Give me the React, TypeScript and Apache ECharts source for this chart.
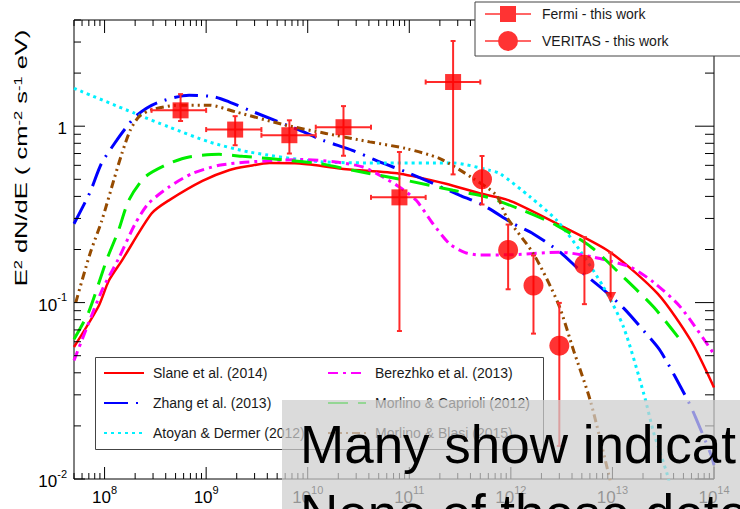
import React, { useEffect, useRef } from 'react';
import * as echarts from 'echarts';

// Axis ranges: energy in eV, flux in E^2 dN/dE (cm^-2 s^-1 eV)
const E_MIN = 5e7;
const E_MAX = 1e14;
const F_MIN = 1e-2;
const F_MAX = 4;

// Labelled decades (log10)
const xLabelDecades = [8, 9, 10, 11, 12, 13, 14];
const yLabelDecades = [-2, -1, 0];

// Model curves: [energy (eV), E^2 dN/dE]
const slane = [
  [5e7, 0.056], [8.7e7, 0.095], [1.1e8, 0.133], [1.48e8, 0.173], [2.9e8, 0.32],
  [4.3e8, 0.38], [9.2e8, 0.49], [1.7e9, 0.565], [2.65e9, 0.595], [4.2e9, 0.618],
  [8.3e9, 0.615], [2.4e10, 0.57], [8e10, 0.538], [2.3e11, 0.472], [5e11, 0.415],
  [7.8e11, 0.393], [1.06e12, 0.371], [3.06e12, 0.274], [9.5e12, 0.193],
  [2.8e13, 0.112], [5.9e13, 0.061], [1e14, 0.033],
];
const zhang = [
  [5e7, 0.28], [7.2e7, 0.423], [9.3e7, 0.614], [1.32e8, 0.833], [1.6e8, 0.97],
  [2.08e8, 1.155], [3.3e8, 1.357], [6.8e8, 1.5], [1.19e9, 1.468], [1.68e9, 1.375],
  [2.65e9, 1.233], [8.3e9, 0.949], [1.4e10, 0.833], [2.75e10, 0.73], [4.7e10, 0.641],
  [9.3e10, 0.55], [1.58e11, 0.483], [3.15e11, 0.406], [5.35e11, 0.356], [1.06e12, 0.28],
  [1.67e12, 0.245], [3.06e12, 0.193], [4.8e12, 0.152], [8.2e12, 0.118], [1.29e13, 0.093],
  [2.04e13, 0.069], [2.98e13, 0.053], [5.5e13, 0.028], [6.6e13, 0.0223], [9.3e13, 0.0138],
  [1e14, 0.012],
];
const atoyan = [
  [5e7, 1.64], [2.0e8, 1.18], [4.3e8, 0.99], [1.07e9, 0.815], [2.65e9, 0.714],
  [1.3e10, 0.63], [5.9e10, 0.619], [2.7e11, 0.619], [6.2e11, 0.562], [7.8e11, 0.539],
  [1.55e12, 0.397], [2.84e12, 0.292], [4.8e12, 0.197], [8.2e12, 0.122], [1.29e13, 0.0724],
  [2.04e13, 0.0303], [2.57e13, 0.018], [3.47e13, 0.0106], [3.7e13, 0.009],
];
const berezhko = [
  [5e7, 0.047], [9.4e7, 0.117], [1.37e8, 0.177], [2.0e8, 0.28], [2.7e8, 0.364],
  [4.3e8, 0.452], [7.3e8, 0.539], [1.34e9, 0.6], [2.65e9, 0.627], [8.9e9, 0.647],
  [1.9e10, 0.627], [3.5e10, 0.587], [5.5e10, 0.515], [8e10, 0.452], [1.17e11, 0.38],
  [1.71e11, 0.28], [2.5e11, 0.215], [3.55e11, 0.192], [5e11, 0.186], [1.06e12, 0.187],
  [3.06e12, 0.193], [6.5e12, 0.181], [1.5e13, 0.159], [2.56e13, 0.13], [4.7e13, 0.094],
  [1e14, 0.051],
];
const morlinoCaprioli = [
  [5e7, 0.062], [6.95e7, 0.088], [1.05e8, 0.175], [1.37e8, 0.256], [1.73e8, 0.38],
  [2.5e8, 0.515], [4.3e8, 0.614], [6.8e8, 0.669], [1.34e9, 0.693], [2.28e9, 0.675],
  [4.2e9, 0.655], [1.3e10, 0.614], [2.78e10, 0.562], [9.3e10, 0.493], [2.7e11, 0.433],
  [5.75e11, 0.397], [1.32e12, 0.333], [2.82e12, 0.274], [6.2e12, 0.206], [1.29e13, 0.139],
  [2.56e13, 0.094], [4.7e13, 0.061],
];
const morlinoBlasi = [
  [5.2e7, 0.1], [7.2e7, 0.19], [9.4e7, 0.292], [1.23e8, 0.493], [1.48e8, 0.7],
  [1.79e8, 0.949], [2.17e8, 1.13], [2.83e8, 1.233], [5.4e8, 1.316], [1.07e9, 1.316],
  [1.95e9, 1.206], [6.1e9, 1.013], [1.51e10, 0.91], [4.07e10, 0.815], [9.3e10, 0.747],
  [2.0e11, 0.655], [4.27e11, 0.505], [7.2e11, 0.406], [9.1e11, 0.305], [1.67e12, 0.189],
  [2.92e12, 0.099], [4.17e12, 0.053], [6.07e12, 0.0277], [9.2e12, 0.0106], [1e13, 0.0085],
];

// Fermi-LAT spectral points with energy bins and flux errors
const fermiE = [5.6e8, 1.93e9, 6.6e9, 2.25e10, 8.0e10, 2.7e11];
const fermiElo = [2.9e8, 1e9, 3.5e9, 1.2e10, 4.2e10, 1.45e11];
const fermiEhi = [1e9, 3.5e9, 1.2e10, 4.2e10, 1.45e11, 5e11];
const fermiF = [1.23, 0.957, 0.889, 0.987, 0.395, 1.78];
const fermiFlo = [1.07, 0.78, 0.7, 0.68, 0.069, 0.533];
const fermiFhi = [1.52, 1.14, 1.08, 1.3, 0.714, 3.04];

// VERITAS spectral points
const veritasE = [5.2e11, 9.4e11, 1.67e12, 3.0e12, 5.3e12];
const veritasF = [0.5, 0.199, 0.125, 0.057, 0.164];
const veritasFlo = [0.36, 0.119, 0.0667, 0.0154, 0.098];
const veritasFhi = [0.678, 0.277, 0.185, 0.0996, 0.235];

// VERITAS upper limit: energy, limit value, arrow tip
const ulE = [9.6e12];
const ulF = [0.192];
const ulTip = [0.107];

const modelNames = [
  'Slane et al. (2014)',
  'Zhang et al. (2013)',
  'Atoyan & Dermer (2012)',
  'Berezhko et al. (2013)',
  'Morlino & Caprioli (2012)',
  'Morlino & Blasi (2015)',
];
const fermiName = 'Fermi - this work';
const veritasName = 'VERITAS - this work';

const overlayLines = ['Many show indicat', 'None of these dete'];

const FONT = '"Liberation Sans", Arial, Helvetica, sans-serif';
const RED = '#ff0000';

const modelStyles = [
  { data: slane, color: '#ff0000', width: 2.5, type: 'solid' as any },
  { data: zhang, color: '#0000ff', width: 3, type: [24, 8, 2, 8] },
  { data: atoyan, color: '#00f0ff', width: 3, type: [3, 4] },
  { data: berezhko, color: '#ff00ff', width: 3, type: [10, 5, 3, 5] },
  { data: morlinoCaprioli, color: '#00ee00', width: 3, type: [20, 10] },
  { data: morlinoBlasi, color: '#964b00', width: 3, type: [8, 4, 2, 4, 2, 4] },
];

const lg = Math.log10;
const xMinL = lg(E_MIN);
const xMaxL = lg(E_MAX);
const yMinL = lg(F_MIN);
const yMaxL = lg(F_MAX);

function logTicks(lo: number, hi: number) {
  const out: number[][] = [];
  for (let d = Math.floor(lo); d <= Math.ceil(hi); d++) {
    for (let k = 1; k <= 9; k++) {
      const v = d + lg(k);
      if (v >= lo - 1e-9 && v <= hi + 1e-9) out.push([v, k === 1 ? 1 : 0]);
    }
  }
  return out;
}

const supRich = {
  b: { fontSize: 17, fontFamily: FONT, color: '#000', lineHeight: 22, verticalAlign: 'bottom' },
  s: { fontSize: 11, fontFamily: FONT, color: '#000', lineHeight: 12, verticalAlign: 'top' },
};

function seg(x1: number, y1: number, x2: number, y2: number, style: any) {
  return { type: 'line', shape: { x1, y1, x2, y2 }, style };
}

function errorBarItem(withX: boolean) {
  return (params: any, api: any) => {
    const cx = api.value(0);
    const cy = api.value(1);
    const c = api.coord([cx, cy]);
    const yl = api.coord([cx, api.value(4)])[1];
    const yh = api.coord([cx, api.value(5)])[1];
    const st = { stroke: '#ff2a2a', lineWidth: 2 };
    const cap = 2.5;
    const children: any[] = [
      seg(c[0], yh, c[0], yl, st),
      seg(c[0] - cap, yh, c[0] + cap, yh, st),
      seg(c[0] - cap, yl, c[0] + cap, yl, st),
    ];
    if (withX) {
      const xl = api.coord([api.value(2), cy])[0];
      const xh = api.coord([api.value(3), cy])[0];
      children.push(seg(xl, c[1], xh, c[1], st));
      children.push(seg(xl, c[1] - cap, xl, c[1] + cap, st));
      children.push(seg(xh, c[1] - cap, xh, c[1] + cap, st));
    }
    return { type: 'group', children };
  };
}

const fermiIcon = 'path://M0,9.25H46V10.75H0Z M15,2H31V18H15Z';
const veritasIcon = 'path://M0,9.25H46V10.75H0Z M13,10A10,10,0,1,1,33,10A10,10,0,1,1,13,10Z';

function buildOption() {
  const tickStyle = { stroke: '#000', lineWidth: 1 };

  const xTickSeries = {
    type: 'custom',
    coordinateSystem: 'cartesian2d',
    silent: true,
    z: 3,
    data: logTicks(xMinL, xMaxL).map(([v, m]) => [v, yMinL, m]),
    encode: { x: 0, y: 1 },
    renderItem: (params: any, api: any) => {
      const cs = params.coordSys;
      const x = api.coord([api.value(0), yMinL])[0];
      const major = api.value(2) === 1;
      const bot = cs.y + cs.height;
      const top = cs.y;
      return {
        type: 'group',
        children: [
          seg(x, bot, x, bot - (major ? 12 : 6), tickStyle),
          seg(x, top, x, top + (major ? 13 : 6), tickStyle),
        ],
      };
    },
  };

  const yTickSeries = {
    type: 'custom',
    coordinateSystem: 'cartesian2d',
    silent: true,
    z: 3,
    data: logTicks(yMinL, yMaxL).map(([v, m]) => [xMinL, v, m]),
    encode: { x: 0, y: 1 },
    renderItem: (params: any, api: any) => {
      const cs = params.coordSys;
      const y = api.coord([xMinL, api.value(1)])[1];
      const major = api.value(2) === 1;
      const left = cs.x;
      const right = cs.x + cs.width;
      return {
        type: 'group',
        children: [
          seg(left, y, left + (major ? 11 : 7), y, tickStyle),
          seg(right, y, right - (major ? 19 : 9), y, tickStyle),
        ],
      };
    },
  };

  const modelSeries = modelStyles.map((m, i) => ({
    name: modelNames[i],
    type: 'line',
    data: m.data.map(([e, f]) => [lg(e), lg(f)]),
    symbol: 'none',
    showSymbol: false,
    smooth: 0.25,
    clip: true,
    silent: true,
    z: 2,
    emphasis: { disabled: true },
    lineStyle: { color: m.color, width: m.width, type: m.type },
    itemStyle: { color: m.color },
  }));

  const fermiErr = {
    type: 'custom',
    coordinateSystem: 'cartesian2d',
    silent: true,
    z: 4,
    encode: { x: 0, y: 1 },
    data: fermiE.map((e, i) => [lg(e), lg(fermiF[i]), lg(fermiElo[i]), lg(fermiEhi[i]), lg(fermiFlo[i]), lg(fermiFhi[i])]),
    renderItem: errorBarItem(true),
  };
  const veritasErr = {
    type: 'custom',
    coordinateSystem: 'cartesian2d',
    silent: true,
    z: 4,
    encode: { x: 0, y: 1 },
    data: veritasE.map((e, i) => [lg(e), lg(veritasF[i]), lg(e), lg(e), lg(veritasFlo[i]), lg(veritasFhi[i])]),
    renderItem: errorBarItem(false),
  };
  const ulErr = {
    type: 'custom',
    coordinateSystem: 'cartesian2d',
    silent: true,
    z: 4,
    encode: { x: 0, y: 1 },
    data: ulE.map((e, i) => [lg(e), lg(ulF[i]), lg(ulTip[i])]),
    renderItem: (params: any, api: any) => {
      const top = api.coord([api.value(0), api.value(1)]);
      const tip = api.coord([api.value(0), api.value(2)]);
      const st = { stroke: '#ff2a2a', lineWidth: 2 };
      return {
        type: 'group',
        children: [
          seg(top[0], top[1], tip[0], tip[1], st),
          seg(top[0] - 2.5, top[1], top[0] + 2.5, top[1], st),
        ],
      };
    },
  };

  const fermiPts = {
    name: fermiName,
    type: 'scatter',
    symbol: 'rect',
    symbolSize: 16,
    silent: true,
    z: 5,
    itemStyle: { color: RED },
    data: fermiE.map((e, i) => [lg(e), lg(fermiF[i])]),
  };
  const veritasPts = {
    name: veritasName,
    type: 'scatter',
    symbol: 'circle',
    symbolSize: 20,
    silent: true,
    z: 5,
    itemStyle: { color: RED },
    data: veritasE.map((e, i) => [lg(e), lg(veritasF[i])]),
  };
  const ulPts = {
    type: 'scatter',
    symbol: 'triangle',
    symbolRotate: 180,
    symbolSize: 11,
    silent: true,
    z: 5,
    itemStyle: { color: RED },
    data: ulE.map((e, i) => [lg(e), lg(ulTip[i])]),
  };

  const legendText = { fontSize: 14, fontFamily: FONT, color: '#1a1a1a', padding: [0, 0, 0, 4] };

  return {
    animation: false,
    backgroundColor: '#ffffff',
    grid: {
      left: 74, top: 20, right: 26, bottom: 30,
      show: true, borderColor: '#000', borderWidth: 1, backgroundColor: 'transparent',
    },
    xAxis: {
      type: 'value',
      min: xMinL,
      max: xMaxL,
      axisLine: { show: false },
      axisTick: { show: false },
      splitLine: { show: false },
      axisLabel: {
        customValues: xLabelDecades,
        margin: 5,
        rich: supRich,
        formatter: (v: number) => {
          const r = Math.round(v);
          return Math.abs(v - r) < 1e-6 ? `{b|10}{s|${r}}` : '';
        },
      },
    },
    yAxis: {
      type: 'value',
      min: yMinL,
      max: yMaxL,
      axisLine: { show: false },
      axisTick: { show: false },
      splitLine: { show: false },
      axisLabel: {
        customValues: yLabelDecades,
        margin: 7,
        rich: supRich,
        formatter: (v: number) => {
          const r = Math.round(v);
          if (Math.abs(v - r) > 1e-6) return '';
          return r === 0 ? '{b|1}' : `{b|10}{s|${r}}`;
        },
      },
    },
    legend: [
      {
        data: [
          { name: fermiName, icon: fermiIcon },
          { name: veritasName, icon: veritasIcon },
        ],
        orient: 'vertical',
        left: 475,
        top: 2,
        itemWidth: 46,
        itemHeight: 20,
        itemGap: 9,
        padding: [4, 90, 5, 10],
        backgroundColor: '#ffffff',
        borderColor: '#444',
        borderWidth: 1,
        selectedMode: false,
        z: 20,
        textStyle: { ...legendText, padding: [0, 0, 0, 6] },
      },
      {
        data: modelNames.slice(0, 3),
        orient: 'vertical',
        left: 103,
        top: 366,
        itemWidth: 40,
        itemHeight: 14,
        itemGap: 16,
        padding: 0,
        selectedMode: false,
        z: 20,
        itemStyle: { opacity: 0 },
        textStyle: legendText,
      },
      {
        data: modelNames.slice(3),
        orient: 'vertical',
        left: 327,
        top: 366,
        itemWidth: 38,
        itemHeight: 14,
        itemGap: 16,
        padding: 0,
        selectedMode: false,
        z: 20,
        itemStyle: { opacity: 0 },
        textStyle: legendText,
      },
    ],
    graphic: [
      {
        type: 'rect',
        z: 15,
        shape: { x: 95.5, y: 357.5, width: 448, height: 92 },
        style: { fill: '#ffffff', stroke: '#444', lineWidth: 1 },
      },
      {
        type: 'text',
        z: 15,
        x: 21,
        y: 158,
        rotation: Math.PI / 2,
        scaleX: 1.5,
        scaleY: 1,
        style: {
          text: 'E{s|2} dN/dE ( cm{s|-2} s{s|-1} eV)',
          fontSize: 17,
          fontFamily: FONT,
          fill: '#000',
          align: 'center',
          verticalAlign: 'middle',
          rich: {
            s: { fontSize: 11, fontFamily: FONT, fill: '#000', verticalAlign: 'top', lineHeight: 12 },
          },
        },
      },
      {
        type: 'rect',
        z: 100,
        shape: { x: 282, y: 400, width: 470, height: 120 },
        style: { fill: 'rgba(205,205,205,0.72)' },
      },
      {
        type: 'text',
        z: 101,
        x: 300,
        y: 444,
        style: {
          text: overlayLines[0],
          fontSize: 53,
          fontFamily: FONT,
          fill: '#000',
          align: 'left',
          verticalAlign: 'middle',
        },
      },
      {
        type: 'text',
        z: 101,
        x: 300,
        y: 513,
        style: {
          text: overlayLines[1],
          fontSize: 53,
          fontFamily: FONT,
          fill: '#000',
          align: 'left',
          verticalAlign: 'middle',
        },
      },
    ],
    series: [
      xTickSeries,
      yTickSeries,
      ...modelSeries,
      fermiErr,
      veritasErr,
      ulErr,
      fermiPts,
      veritasPts,
      ulPts,
    ],
  };
}

export default function App() {
  const ref = useRef<HTMLDivElement>(null);

  useEffect(() => {
    if (!ref.current) return;
    const chart = echarts.init(ref.current, undefined, { renderer: 'svg' });
    chart.setOption(buildOption() as any);
    return () => {
      chart.dispose();
    };
  }, []);

  return (
    <div
      ref={ref}
      style={{ position: 'absolute', left: 0, top: 0, width: 740, height: 509, overflow: 'hidden', background: '#fff' }}
    />
  );
}
